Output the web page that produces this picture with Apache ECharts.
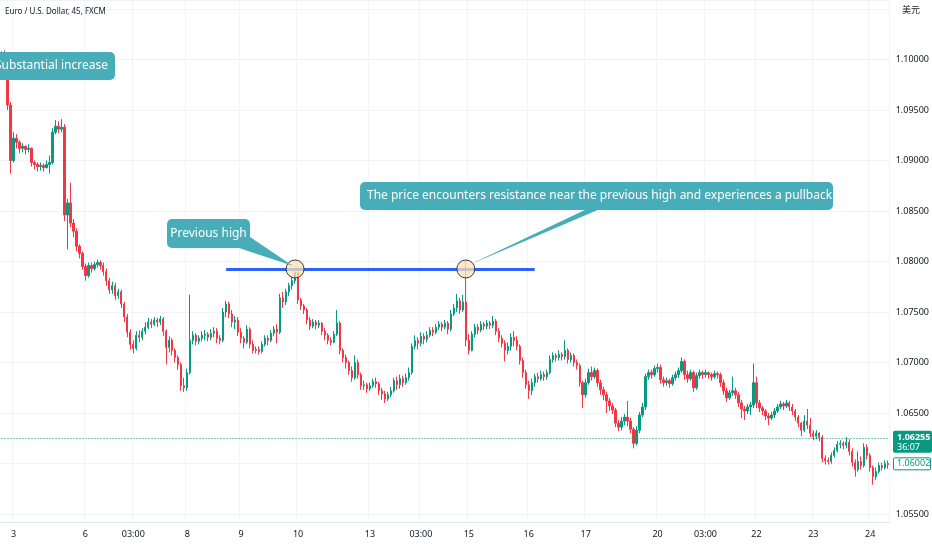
<!DOCTYPE html>
<html>
<head>
<meta charset="utf-8">
<script src="https://cdn.jsdelivr.net/npm/echarts@6/dist/echarts.min.js"></script>
<style>
  html, body { margin: 0; padding: 0; background: #fff; }
  #chart { width: 932px; height: 550px; }
</style>
</head>
<body>
<div id="chart"></div>
<script>
// EUR/USD 45m, prices in pips above 1.0000 (e.g. 795 -> 1.0795)
const firstOpen = 1000;
const closes = [
  1003, 990, 955, 900, 922, 918, 912, 914, 911, 912,
  898, 896, 894, 895, 893, 896, 898, 928, 934, 931,
  933, 846, 858, 838, 830, 815, 808, 795, 786, 796,
  793, 797, 799, 796, 790, 781, 772, 776, 766, 770,
  758, 745, 730, 718, 714, 727, 725, 731, 735, 740,
  738, 742, 740, 743, 731, 715, 722, 712, 705, 698,
  677, 675, 690, 722, 727, 721, 724, 727, 728, 725,
  729, 731, 724, 722, 750, 758, 748, 740, 742, 730,
  724, 720, 733, 718, 712, 713, 711, 718, 724, 722,
  729, 733, 730, 764, 760, 770, 776, 781, 789, 762,
  756, 752, 742, 736, 740, 737, 739, 731, 727, 722,
  720, 728, 739, 712, 705, 700, 692, 685, 700, 688,
  677, 678, 674, 677, 681, 679, 672, 669, 664, 668,
  672, 682, 678, 684, 680, 685, 690, 716, 722, 719,
  726, 723, 727, 732, 730, 735, 738, 735, 739, 733,
  748, 754, 761, 752, 760, 722, 712, 728, 735, 732,
  738, 736, 739, 737, 741, 731, 724, 719, 712, 716,
  725, 722, 716, 702, 690, 678, 672, 680, 686, 684,
  688, 686, 690, 703, 707, 705, 708, 706, 712, 703,
  707, 700, 697, 680, 668, 680, 690, 686, 692, 680,
  673, 668, 662, 657, 653, 640, 636, 642, 646, 642,
  634, 620, 633, 648, 656, 686, 690, 688, 694, 695,
  683, 680, 682, 679, 685, 688, 692, 701, 688, 684,
  690, 675, 687, 690, 688, 690, 688, 686, 689, 688,
  680, 672, 665, 670, 672, 668, 660, 654, 652, 656,
  658, 680, 660, 655, 652, 647, 645, 648, 652, 656,
  659, 657, 660, 656, 652, 646, 640, 633, 642, 638,
  630, 627, 630, 626, 605, 603, 602, 608, 613, 619,
  620, 618, 621, 612, 601, 594, 602, 598, 616, 608,
  596, 587, 592, 598, 596, 600, 599
];
const highs = [
  1008, 1009, 995, 958, 928, 926, 920, 917, 915, 916,
  913, 900, 898, 898, 897, 900, 905, 932, 940, 939,
  941, 936, 862, 878, 842, 833, 817, 810, 798, 799,
  799, 800, 802, 801, 799, 793, 784, 780, 779, 773,
  772, 760, 748, 733, 722, 731, 732, 734, 740, 744,
  743, 745, 744, 746, 745, 733, 726, 724, 714, 707,
  700, 685, 694, 767, 731, 729, 727, 731, 732, 730,
  733, 735, 734, 727, 754, 761, 760, 752, 746, 745,
  734, 726, 737, 735, 722, 716, 716, 721, 727, 727,
  732, 736, 738, 768, 770, 773, 779, 785, 791, 790,
  764, 758, 754, 745, 743, 742, 742, 740, 734, 729,
  725, 731, 752, 741, 714, 708, 702, 696, 707, 703,
  690, 682, 680, 680, 684, 685, 681, 675, 672, 671,
  676, 685, 686, 688, 687, 689, 695, 719, 727, 725,
  730, 729, 731, 735, 735, 738, 741, 740, 742, 741,
  752, 758, 768, 764, 767, 801, 728, 731, 738, 738,
  741, 740, 742, 741, 746, 743, 734, 727, 722, 720,
  729, 731, 726, 718, 705, 693, 682, 684, 689, 690,
  692, 691, 693, 707, 710, 709, 712, 710, 722, 714,
  710, 709, 703, 699, 682, 684, 694, 696, 695, 694,
  683, 676, 671, 665, 660, 655, 643, 646, 649, 662,
  645, 636, 637, 651, 660, 689, 693, 693, 697, 699,
  698, 686, 685, 684, 688, 691, 695, 705, 703, 692,
  693, 692, 690, 693, 692, 693, 691, 690, 692, 691,
  690, 683, 675, 673, 686, 675, 671, 663, 657, 659,
  661, 699, 686, 663, 657, 654, 650, 651, 655, 659,
  662, 661, 663, 662, 659, 654, 648, 641, 648, 654,
  645, 633, 633, 631, 628, 608, 606, 611, 616, 622,
  623, 622, 626, 624, 615, 604, 612, 607, 620, 619,
  610, 598, 596, 601, 601, 603, 603
];
const lows = [
  995, 985, 950, 887, 898, 912, 907, 908, 906, 908,
  894, 891, 889, 890, 889, 892, 887, 896, 926, 927,
  928, 840, 812, 834, 824, 810, 803, 792, 781, 784,
  789, 791, 794, 792, 786, 776, 768, 768, 762, 763,
  754, 740, 725, 713, 709, 712, 720, 722, 728, 733,
  734, 736, 735, 737, 726, 698, 710, 707, 700, 693,
  672, 671, 672, 688, 718, 717, 718, 721, 722, 721,
  722, 725, 719, 718, 720, 745, 744, 735, 733, 726,
  719, 714, 718, 714, 709, 709, 708, 709, 716, 717,
  720, 726, 719, 728, 754, 757, 766, 772, 778, 758,
  752, 748, 738, 732, 734, 733, 734, 727, 722, 718,
  717, 719, 726, 708, 700, 694, 688, 681, 683, 684,
  673, 673, 670, 672, 675, 675, 668, 663, 660, 662,
  666, 670, 673, 674, 676, 678, 682, 688, 713, 713,
  716, 718, 720, 725, 726, 728, 732, 731, 733, 728,
  731, 746, 750, 748, 750, 716, 708, 711, 725, 728,
  730, 732, 733, 733, 734, 727, 720, 715, 701, 708,
  712, 716, 712, 698, 685, 674, 664, 668, 676, 680,
  682, 682, 683, 688, 700, 701, 702, 702, 703, 699,
  700, 696, 693, 676, 655, 665, 678, 682, 684, 676,
  668, 663, 650, 652, 649, 636, 632, 633, 638, 637,
  630, 615, 618, 630, 646, 653, 683, 684, 686, 690,
  679, 676, 677, 675, 677, 682, 685, 690, 683, 680,
  682, 671, 673, 684, 684, 685, 684, 682, 684, 684,
  676, 668, 661, 663, 667, 664, 656, 645, 643, 649,
  648, 655, 655, 651, 648, 643, 638, 643, 645, 650,
  654, 653, 655, 652, 648, 642, 636, 627, 631, 634,
  626, 623, 624, 622, 601, 599, 599, 600, 606, 611,
  615, 614, 615, 608, 597, 587, 592, 594, 596, 604,
  592, 579, 584, 590, 593, 594, 595
];

// x-axis tick labels and the candle they sit under
const tickIndex = [4, 28, 44, 62, 80, 99, 123, 140, 156, 176, 195, 219, 235, 252, 271, 290];
const tickText = ['3', '6', '03:00', '8', '9', '10', '13', '03:00', '15', '16', '17', '20', '03:00', '22', '23', '24'];

const resistance = 1.07926;        // horizontal line level
const lineFrom = 75, lineTo = 178; // candle range of the line
const touches = [98, 155];         // the two highs circled
const lastPrice = 1.06255;
const countdown = '36:07';
const refPrice = 1.06002;

const UP = '#089981', DOWN = '#f23645', CALLOUT = '#47adb9';
const FONT = '"Noto Sans", Roboto, sans-serif';

const px = (v) => +(1 + v / 10000).toFixed(5);
const cats = closes.map((_, i) => String(i));
const ohlc = closes.map((c, i) => {
  const o = i === 0 ? firstOpen : closes[i - 1];
  return [px(o), px(c), px(lows[i]), px(highs[i])];
});
const isTick = (i) => tickIndex.indexOf(i) >= 0;
const last = closes.length - 1;

const chart = echarts.init(document.getElementById('chart'));

chart.setOption({
  animation: false,
  backgroundColor: '#ffffff',
  grid: { left: 0, right: 40, top: 0, bottom: 28 },
  xAxis: {
    type: 'category',
    data: cats,
    boundaryGap: true,
    axisLine: { lineStyle: { color: '#e0e3eb' } },
    axisTick: { show: false },
    axisLabel: {
      interval: (i) => isTick(i),
      formatter: (v) => tickText[tickIndex.indexOf(Number(v))] || '',
      color: '#131722',
      fontSize: 9,
      fontFamily: FONT,
      margin: 8
    },
    splitLine: { show: true, interval: (i) => isTick(i), lineStyle: { color: '#f2f4f8' } }
  },
  yAxis: {
    type: 'value',
    position: 'right',
    min: px(542.1),
    max: px(1058.9),
    splitNumber: 10,
    axisLine: { show: false },
    axisTick: { show: false },
    axisLabel: {
      showMinLabel: false,
      showMaxLabel: false,
      formatter: (v) => (v > 1.1001 ? '' : v.toFixed(5)),
      color: '#131722',
      fontSize: 9,
      fontFamily: FONT,
      margin: 6
    },
    splitLine: { lineStyle: { color: '#f0f3fa' } }
  },
  series: [{
    type: 'candlestick',
    data: ohlc,
    barWidth: 1.8,
    itemStyle: {
      color: UP, color0: DOWN,
      borderColor: UP, borderColor0: DOWN,
      borderWidth: 1
    },
    markLine: {
      silent: true,
      symbol: ['none', 'none'],
      label: { show: false },
      data: [
        [
          { coord: [lineFrom, resistance], lineStyle: { color: '#2962ff', width: 3, type: 'solid' } },
          { coord: [lineTo, resistance] }
        ],
        [
          { coord: [0, lastPrice], lineStyle: { color: UP, width: 1, type: [1, 2] } },
          { coord: [last, lastPrice] }
        ]
      ]
    },
    markPoint: {
      silent: true,
      symbol: 'circle',
      symbolSize: 18,
      label: { show: false },
      itemStyle: { color: 'rgba(255,224,178,0.75)', borderColor: '#3a3a3a', borderWidth: 1 },
      data: touches.map((i) => ({ coord: [i, resistance] }))
    }
  }]
});

// callouts and price tags, anchored through the chart's own scales
const c1 = chart.convertToPixel({ seriesIndex: 0 }, [touches[0], resistance]);
const c2 = chart.convertToPixel({ seriesIndex: 0 }, [touches[1], resistance]);
const yLast = chart.convertToPixel({ yAxisIndex: 0 }, lastPrice);
const yRef = chart.convertToPixel({ yAxisIndex: 0 }, refPrice);

const callText = (text, x, y, align) => ({
  type: 'text', z: 12,
  style: { text, x, y, fill: '#ffffff', font: '12px ' + FONT, textAlign: align, textVerticalAlign: 'middle' }
});

chart.setOption({
  graphic: [
    { type: 'text', z: 12, style: { text: 'Euro / U.S. Dollar, 45, FXCM', x: 5, y: 12, fill: '#131722', font: '8px ' + FONT, textVerticalAlign: 'middle' } },
    { type: 'text', z: 12, style: { text: '美元', x: 902, y: 10, fill: '#131722', font: '9px "Noto Sans CJK SC"', textVerticalAlign: 'middle' } },

    { type: 'rect', z: 10, shape: { x: -8, y: 52, width: 123, height: 28, r: 5 }, style: { fill: CALLOUT } },
    callText('Substantial increase', 108, 66, 'right'),

    { type: 'polygon', z: 10, shape: { points: [[236, 247], [250, 237], [c1[0] - 2, c1[1] - 3]] }, style: { fill: CALLOUT } },
    { type: 'rect', z: 10, shape: { x: 167, y: 219, width: 83, height: 29, r: 5 }, style: { fill: CALLOUT } },
    callText('Previous high', 208.5, 233.5, 'center'),

    { type: 'polygon', z: 10, shape: { points: [[587, 209], [600, 209], [c2[0] + 3, c2[1] - 4]] }, style: { fill: CALLOUT } },
    { type: 'rect', z: 10, shape: { x: 360, y: 182, width: 473, height: 28, r: 5 }, style: { fill: CALLOUT } },
    callText('The price encounters resistance near the previous high and experiences a pullback', 367, 196, 'left'),

    { type: 'rect', z: 12, shape: { x: 893, y: yLast - 7, width: 39, height: 22, r: 2 }, style: { fill: UP } },
    { type: 'text', z: 13, style: { text: lastPrice.toFixed(5), x: 897, y: yLast, fill: '#fff', font: 'bold 9px ' + FONT, textVerticalAlign: 'middle' } },
    { type: 'text', z: 13, style: { text: countdown, x: 897, y: yLast + 10, fill: '#fff', font: '9px ' + FONT, textVerticalAlign: 'middle' } },

    { type: 'rect', z: 12, shape: { x: 893.5, y: yRef - 5.5, width: 37, height: 12, r: 1 }, style: { fill: '#fff', stroke: UP, lineWidth: 1 } },
    { type: 'text', z: 13, style: { text: refPrice.toFixed(5), x: 897, y: yRef + 0.5, fill: UP, font: '9px ' + FONT, textVerticalAlign: 'middle' } }
  ]
});
</script>
</body>
</html>
